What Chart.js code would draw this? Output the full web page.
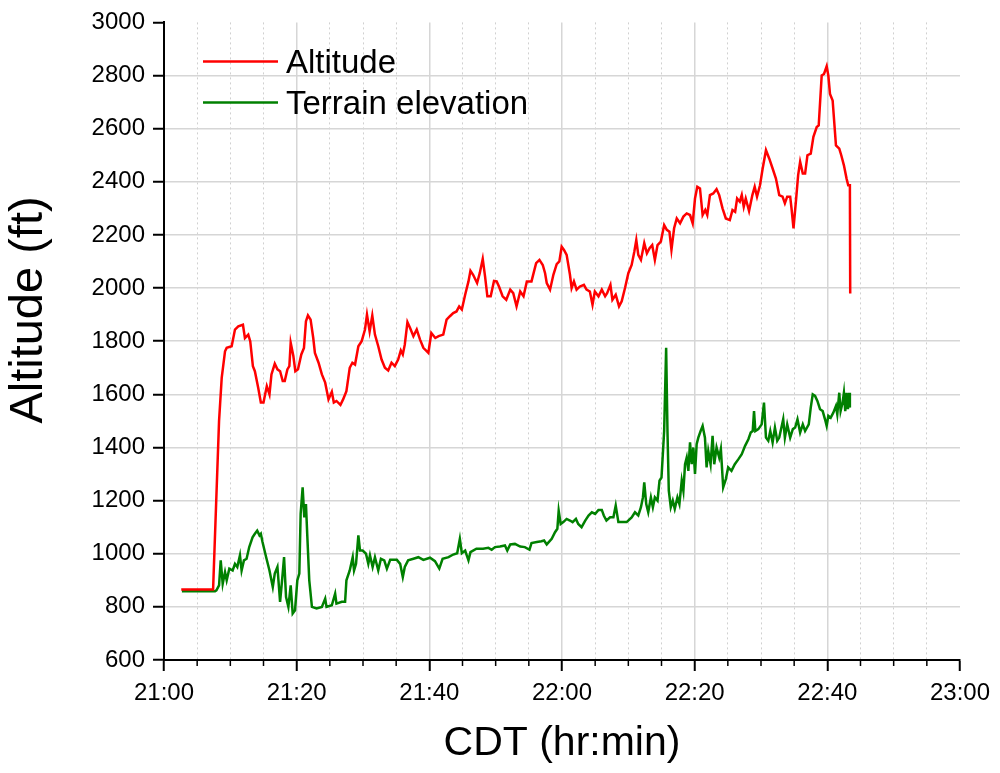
<!DOCTYPE html>
<html>
<head>
<meta charset="utf-8">
<script src="https://cdn.jsdelivr.net/npm/chart.js@4.4.0/dist/chart.umd.min.js"></script>
<style>
  html, body { margin: 0; padding: 0; background: #fff; }
  #wrap { width: 1000px; height: 773px; }
</style>
</head>
<body>
<div id="wrap"><canvas id="flight_chart" width="1000" height="773"></canvas></div>
<script>
// DATA (time = minutes after 21:00 CDT, values in ft)
const alt_time = [
  2.6, 7.4, 8.3, 8.7, 9.2, 9.45, 10.2, 10.7, 11.2, 11.9, 12.2, 12.7, 13.0, 13.4, 13.7, 14.2, 14.6, 15.0,
  15.5, 15.9, 16.2, 16.7, 17.1, 17.5, 17.9, 18.2, 18.6, 18.9, 19.1, 19.5, 19.8, 20.2, 20.7, 21.1, 21.4,
  21.7, 22.1, 22.5, 22.75, 23.3, 23.8, 24.3, 24.8, 25.3, 25.6, 26.0, 26.6, 27.0, 27.5, 28.0, 28.4, 28.8,
  29.3, 29.8, 30.3, 30.6, 31.0, 31.4, 31.8, 32.3, 32.8, 33.3, 33.8, 34.3, 34.8, 35.3, 35.7, 36.0, 36.3,
  36.7, 37.1, 37.6, 38.1, 38.6, 39.1, 39.85, 40.3, 40.9, 41.4, 42.1, 42.6, 43.1, 43.6, 44.1, 44.5, 44.9,
  45.4, 45.9, 46.2, 46.6, 47.2, 47.6, 48.05, 48.4, 48.75, 49.25, 49.75, 50.15, 50.5, 51.05, 51.6, 52.2,
  52.65, 53.15, 53.7, 54.2, 54.7, 55.4, 56.1, 56.6, 57.1, 57.45, 57.7, 58.2, 58.7, 59.2, 59.6, 59.95,
  60.3, 60.7, 61.2, 61.45, 61.8, 62.2, 62.7, 63.3, 63.7, 64.2, 64.6, 64.95, 65.5, 66.0, 66.5, 66.8, 67.3,
  67.6, 68.1, 68.6, 69.0, 69.5, 70.0, 70.5, 70.9, 71.2, 71.5, 71.9, 72.4, 72.8, 73.2, 73.6, 74.0, 74.4,
  74.9, 75.4, 75.8, 76.2, 76.5, 76.9, 77.3, 77.8, 78.3, 78.8, 79.3, 79.7, 80.05, 80.4, 80.8, 81.2, 81.6,
  81.9, 82.3, 82.8, 83.3, 83.7, 84.2, 84.7, 85.3, 85.7, 86.1, 86.4, 86.8, 87.1, 87.4, 87.7, 88.2, 88.7,
  89.05, 89.4, 89.85, 90.25, 90.75, 91.25, 91.75, 92.25, 92.75, 93.25, 93.6, 93.95, 94.4, 94.6, 94.9,
  95.3, 95.6, 95.9, 96.3, 96.65, 97.0, 97.5, 97.9, 98.4, 98.7, 99.15, 99.5, 99.9, 100.15, 100.4, 100.8,
  101.3, 101.8, 102.1, 102.5, 102.9, 103.15, 103.4, 103.45
];
const alt_feet = [
  865, 865, 1500, 1662, 1762, 1775, 1781, 1844, 1856, 1862, 1812, 1825, 1800, 1706, 1687, 1625, 1569, 1569,
  1631, 1600, 1675, 1715, 1694, 1687, 1650, 1650, 1694, 1706, 1794, 1744, 1687, 1694, 1750, 1775, 1875,
  1897, 1881, 1812, 1756, 1719, 1675, 1644, 1581, 1610, 1569, 1575, 1560, 1581, 1612, 1700, 1719, 1712,
  1781, 1800, 1844, 1900, 1837, 1897, 1825, 1781, 1731, 1700, 1690, 1719, 1706, 1731, 1765, 1750, 1787,
  1872, 1850, 1819, 1844, 1806, 1775, 1756, 1831, 1812, 1819, 1825, 1881, 1894, 1906, 1912, 1931, 1919,
  1975, 2025, 2065, 2050, 2019, 2056, 2110, 2044, 1969, 1969, 2027, 2025, 2006, 1969, 1956, 1994,
  1981, 1931, 1987, 1969, 2025, 2025, 2094, 2106, 2087, 2056, 2019, 1994, 2050, 2090, 2100, 2156,
  2144, 2125, 2050, 2000, 2025, 1994, 2006, 2012, 1994, 1987, 1937, 1987, 1969, 1994, 1969, 1981, 2012,
  1956, 1975, 1931, 1950, 2000, 2056, 2087, 2137, 2181, 2125, 2106, 2169, 2131, 2150, 2162, 2106, 2162,
  2175, 2237, 2219, 2212, 2144, 2225, 2262, 2244, 2269, 2281, 2275, 2244, 2337, 2381, 2375, 2275, 2294,
  2275, 2350, 2356, 2372, 2350, 2300, 2262, 2256, 2294, 2287, 2337, 2325, 2350, 2306, 2337, 2290, 2350,
  2381, 2344, 2387, 2450, 2519, 2487, 2450, 2412, 2350, 2344, 2319, 2344, 2344, 2300, 2225,
  2337, 2425, 2475, 2431, 2431, 2500, 2506, 2569, 2606, 2612, 2800, 2806, 2835, 2800, 2731, 2706,
  2537, 2525, 2500, 2462, 2412, 2387, 2387, 1980
];

const terrain_time = [
  2.7, 7.7, 7.9, 8.3, 8.55, 8.85, 9.2, 9.45, 9.85, 10.35, 10.7, 11.05, 11.45, 11.7, 12.05, 12.45, 12.85,
  13.35, 13.7, 14.05, 14.4, 14.6, 14.85, 15.4, 15.9, 16.4, 16.7, 17.1, 17.5, 17.8, 18.1, 18.4, 18.75,
  19.1, 19.4, 19.75, 20.1, 20.4, 20.6, 20.9, 21.15, 21.4, 21.6, 21.9, 22.3, 23.0, 23.8, 24.3, 24.5, 25.3,
  25.8, 26.0, 26.8, 27.3, 27.5, 28.0, 28.45, 28.65, 28.95, 29.3, 29.55, 29.95, 30.45, 30.8, 31.05, 31.45,
  31.8, 32.3, 32.7, 33.2, 33.6, 34.1, 35.1, 35.6, 36.0, 36.3, 36.8, 37.6, 38.35, 39.1, 40.1, 40.85, 41.5,
  42.0, 42.9, 43.6, 44.2, 44.6, 44.9, 45.4, 45.9, 46.2, 47.1, 48.1, 48.9, 49.4, 49.9, 50.65, 51.4, 51.75,
  52.2, 52.9, 53.7, 54.4, 55.1, 55.4, 56.2, 56.9, 57.3, 57.7, 58.45, 58.95, 59.3, 59.5, 59.8, 60.2, 60.7,
  61.2, 61.6, 62.1, 62.45, 62.95, 63.5, 64.0, 64.5, 65.0, 65.5, 66.0, 66.3, 66.7, 67.25, 67.75, 68.1,
  68.5, 69.25, 69.75, 70.5, 71.0, 71.5, 71.9, 72.2, 72.4, 72.7, 73.0, 73.4, 73.7, 74.0, 74.4, 74.7, 75.0,
  75.4, 75.7, 75.9, 76.1, 76.4, 76.7, 77.0, 77.4, 77.7, 78.05, 78.3, 78.55, 78.8, 79.05, 79.3, 79.55,
  79.8, 80.05, 80.3, 80.55, 80.9, 81.2, 81.55, 81.8, 82.05, 82.4, 82.7, 82.95, 83.3, 83.7, 83.95, 84.3,
  84.7, 85.05, 85.55, 86.05, 86.6, 87.1, 87.6, 88.1, 88.45, 88.75, 88.95, 89.15, 89.6, 90.1, 90.45,
  90.75, 91.1, 91.4, 91.75, 92.1, 92.45, 92.75, 93.35, 93.6, 93.95, 94.4, 94.8, 95.15, 95.5, 95.9, 96.3,
  96.65, 97.2, 97.5, 97.8, 98.15, 98.5, 98.9, 99.3, 99.65, 99.9, 100.15, 100.5, 100.9, 101.3, 101.5,
  101.8, 102.0, 102.3, 102.5, 102.7, 102.9, 103.1, 103.3, 103.4
];
const terrain_feet = [
  859, 859, 862, 881, 975, 887, 931, 900, 944, 937, 962, 950, 994, 937, 975, 981, 1025,
  1062, 1075, 1087, 1069, 1075, 1044, 987, 937, 875, 925, 950, 819, 900, 987, 837, 800,
  881, 775, 787, 900, 925, 1150, 1250, 1137, 1187, 1069, 900, 800, 794, 800, 831, 800, 806,
  850, 812, 819, 819, 900, 937, 987, 937, 962, 1069, 1012, 1012, 1000, 962, 994, 950,
  987, 937, 981, 975, 944, 977, 977, 962, 912, 950, 975, 981, 987, 977, 985, 972, 944,
  981, 987, 997, 1002, 1056, 1002, 1012, 975, 1006, 1019, 1019, 1022, 1015, 1025, 1027, 1031, 1012,
  1035, 1037, 1027, 1025, 1015, 1040, 1044, 1047, 1050, 1035, 1056, 1081, 1094, 1162, 1112, 1119, 1131,
  1125, 1119, 1131, 1112, 1100, 1125, 1144, 1156, 1150, 1165, 1165, 1144, 1125, 1137, 1137, 1181,
  1119, 1119, 1119, 1137, 1156, 1144, 1175, 1212, 1269, 1187, 1156, 1212, 1175, 1212, 1200, 1275, 1287,
  1462, 1775, 1462, 1237, 1175, 1200, 1169, 1212, 1187, 1275, 1237, 1337, 1362, 1312, 1419, 1337,
  1400, 1300, 1412, 1437, 1462, 1481, 1437, 1325, 1387, 1337, 1444, 1337, 1400, 1362, 1394, 1250,
  1281, 1325, 1312, 1337, 1356, 1375, 1406, 1431, 1456, 1462, 1537, 1462, 1469, 1487, 1569,
  1437, 1425, 1462, 1419, 1475, 1425, 1437, 1506, 1437, 1487, 1437, 1469, 1475, 1506, 1456, 1487,
  1462, 1487, 1550, 1600, 1594, 1575, 1544, 1537, 1506, 1481, 1519, 1512, 1531, 1556, 1525,
  1606, 1537, 1569, 1606, 1537, 1606, 1544, 1606, 1550
];

const series_names = ["Altitude", "Terrain elevation"];
const x_ticks = [0, 20, 40, 60, 80, 100, 120]; // labelled ticks, minutes after 21:00
const y_ticks = [600, 800, 1000, 1200, 1400, 1600, 1800, 2000, 2200, 2400, 2600, 2800, 3000];
const x_title = "CDT (hr:min)";
const y_title = "Altitude (ft)";

const FONT = '"Liberation Sans", Arial, sans-serif';

// FORMAT MINUTES AS hr:min
function formatTime(min) {
  const h = 21 + Math.floor(min / 60);
  const m = min % 60;
  return h + ":" + (m < 10 ? "0" + m : m);
}

function toPoints(xs, ys) {
  return xs.map((x, i) => ({ x: x, y: ys[i] }));
}

const isMajor = (v) => x_ticks.includes(v);

// LEGEND INSIDE THE PLOT AREA
const insideLegend = {
  id: "insideLegend",
  afterDatasetsDraw(chart) {
    const { ctx, chartArea } = chart;
    ctx.save();
    chart.data.datasets.forEach((ds, i) => {
      const y = chartArea.top + 39 + i * 41;
      ctx.strokeStyle = ds.borderColor;
      ctx.lineWidth = 2.5;
      ctx.beginPath();
      ctx.moveTo(chartArea.left + 39, y);
      ctx.lineTo(chartArea.left + 114, y);
      ctx.stroke();
      ctx.fillStyle = "#000";
      ctx.font = "33px " + FONT;
      ctx.textBaseline = "alphabetic";
      ctx.fillText(ds.label, chartArea.left + 122, y + 12);
    });
    ctx.restore();
  },
};

// SHORT MINOR TICKS ON THE TIME AXIS + ROTATED Y TITLE
const extras = {
  id: "extras",
  afterDraw(chart) {
    const { ctx } = chart;
    const xs = chart.scales.x;
    ctx.save();
    ctx.strokeStyle = "#000";
    ctx.lineWidth = 1.5;
    xs.ticks.forEach((t) => {
      if (isMajor(t.value)) return;
      const px = xs.getPixelForValue(t.value);
      ctx.beginPath();
      ctx.moveTo(px, xs.top);
      ctx.lineTo(px, xs.top + 6);
      ctx.stroke();
    });
    ctx.restore();

    ctx.save();
    ctx.translate(29, 310);
    ctx.rotate(-Math.PI / 2);
    ctx.fillStyle = "#000";
    ctx.font = "47px " + FONT;
    ctx.textAlign = "center";
    ctx.textBaseline = "middle";
    ctx.fillText(y_title, 0, 0);
    ctx.restore();
  },
};

const ctx = document.getElementById("flight_chart").getContext("2d");

new Chart(ctx, {
  type: "line",
  data: {
    datasets: [
      {
        label: series_names[0],
        data: toPoints(alt_time, alt_feet),
        borderColor: "#ff0000",
        borderWidth: 2.5,
        pointRadius: 0,
        fill: false,
      },
      {
        label: series_names[1],
        data: toPoints(terrain_time, terrain_feet),
        borderColor: "#008000",
        borderWidth: 2.5,
        pointRadius: 0,
        fill: false,
      },
    ],
  },
  options: {
    responsive: false,
    animation: false,
    layout: { padding: { top: 20, right: 40, left: 0, bottom: 0 } },
    plugins: {
      legend: { display: false },
      tooltip: { enabled: false },
    },
    scales: {
      x: {
        type: "linear",
        min: 0,
        max: 120,
        afterFit: (s) => { s.height = 113; },
        ticks: {
          stepSize: 5,
          autoSkip: false,
          maxRotation: 0,
          padding: 8,
          color: "#000",
          font: { family: FONT, size: 24 },
          callback: (v) => (isMajor(v) ? formatTime(v) : ""),
        },
        grid: {
          color: (c) => {
            if (!c.tick || c.tick.value === 0 || c.tick.value === 120) return "rgba(0,0,0,0)";
            return isMajor(c.tick.value) ? "#d6d6d6" : "#d0d0d0";
          },
          lineWidth: (c) => (c.tick && isMajor(c.tick.value) ? 1.5 : 1),
          tickLength: 11,
          tickWidth: 2,
          tickColor: (c) => (c.tick && isMajor(c.tick.value) ? "#000" : "rgba(0,0,0,0)"),
        },
        border: {
          color: "#000",
          width: 2,
          dash: (c) => (c.tick && !isMajor(c.tick.value) ? [2, 3] : []),
        },
        title: {
          display: true,
          text: x_title,
          color: "#000",
          font: { family: FONT, size: 41 },
          padding: { top: 0, bottom: 5 },
        },
      },
      y: {
        min: 600,
        max: 3000,
        afterFit: (s) => { s.width = 164; },
        afterBuildTicks: (s) => { s.ticks = y_ticks.map((v) => ({ value: v })); },
        ticks: {
          color: "#000",
          padding: 8,
          font: { family: FONT, size: 24 },
          callback: (v) => String(v),
        },
        grid: {
          color: (c) => (c.tick && (c.tick.value === 600 || c.tick.value === 3000) ? "rgba(0,0,0,0)" : "#d6d6d6"),
          lineWidth: 1.5,
          tickLength: 11,
          tickWidth: 2,
          tickColor: "#000",
        },
        border: { color: "#000", width: 2 },
        title: { display: false },
      },
    },
  },
  plugins: [insideLegend, extras],
});
</script>
</body>
</html>
